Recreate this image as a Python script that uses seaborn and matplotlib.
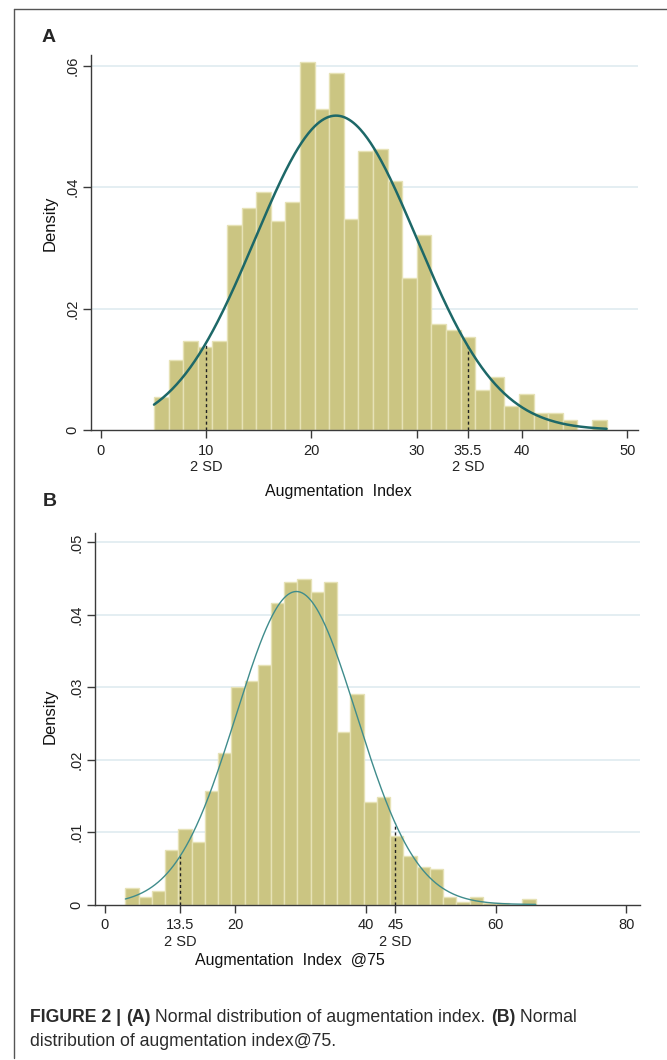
import numpy as np
import pandas as pd
import matplotlib
matplotlib.use("Agg")
import matplotlib.pyplot as plt
import seaborn as sns

# ---------------- data ----------------
# Panel A : Augmentation Index
a_bin_start = 5.05
a_bin_width = 1.386
a_heights = [0.0055, 0.0115, 0.0146, 0.0136, 0.0146, 0.0338, 0.0366, 0.0393, 0.0344, 0.0376,
             0.0606, 0.0529, 0.0588, 0.0348, 0.0459, 0.0463, 0.0410, 0.0250, 0.0321, 0.0174,
             0.0164, 0.0153, 0.0066, 0.0087, 0.0039, 0.0060, 0.0028, 0.0028, 0.0017, 0.0000,
             0.0017]
a_mean, a_sd = 22.33, 7.70
a_sd_marks = [10.0, 34.85]
a_xticks = [0, 10, 20, 30, 34.85, 40, 50]
a_xticklabels = ["0", "10\n2 SD", "20", "30", "35.5\n2 SD", "40", "50"]
a_yticks = [0, 0.02, 0.04, 0.06]
a_yticklabels = ["0", ".02", ".04", ".06"]
a_xlabel = "Augmentation  Index"

# Panel B : Augmentation Index @75
b_bin_start = 3.17
b_bin_width = 2.03
b_heights = [0.0023, 0.0011, 0.0018, 0.0075, 0.0104, 0.0086, 0.0157, 0.0209, 0.0301, 0.0308,
             0.0331, 0.0416, 0.0446, 0.0450, 0.0431, 0.0446, 0.0238, 0.0290, 0.0141, 0.0149,
             0.0094, 0.0067, 0.0052, 0.0049, 0.0011, 0.0004, 0.0011, 0.0002, 0.0002, 0.0000,
             0.0007]
b_mean, b_sd = 29.4, 9.23
b_sd_marks = [11.53, 44.57]
b_xticks = [0, 11.53, 20, 40, 44.57, 60, 80]
b_xticklabels = ["0", "13.5\n2 SD", "20", "40", "45\n2 SD", "60", "80"]
b_yticks = [0, 0.01, 0.02, 0.03, 0.04, 0.05]
b_yticklabels = ["0", ".01", ".02", ".03", ".04", ".05"]
b_xlabel = "Augmentation  Index  @75"

ylabel = "Density"

caption_line1 = [("FIGURE 2 | ", "bold"), ("(A)", "bold"),
                 (" Normal distribution of augmentation index. ", "normal"),
                 ("(B)", "bold"), (" Normal", "normal")]
caption_line2 = "distribution of augmentation index@75."

# ---------------- style ----------------
sns.set_theme(style="white")
plt.rcParams["font.family"] = ["Liberation Sans", "DejaVu Sans"]

W, H = 667, 1060
fig = plt.figure(figsize=(W / 100, H / 100), dpi=100)

BAR = "#cbc582"
BAR_EDGE = "#e6e2b6"
GRID = "#e2edf1"
AXC = "#3a3a3a"


def normpdf(x, m, s):
    return np.exp(-0.5 * ((x - m) / s) ** 2) / (s * np.sqrt(2 * np.pi))


def px_axes(left, top, right, bottom):
    return fig.add_axes([left / W, 1 - bottom / H, (right - left) / W, (bottom - top) / H])


def panel(ax, start, width, heights, mean, sd, marks, xticks, xticklabels, yticks,
          yticklabels, xlim, ylim, curve_color, curve_lw, xlabel, xlabel_pos, ylabel_pos):
    n = len(heights)
    edges = [float(start + width * i) for i in range(n + 1)]
    centers = [e + width / 2 for e in edges[:-1]]
    df = pd.DataFrame({"x": centers, "w": heights})
    for yv in yticks[1:]:
        ax.axhline(yv, color=GRID, lw=1.3, zorder=0)
    sns.histplot(data=df, x="x", weights="w", bins=edges, stat="count", ax=ax,
                 color=BAR, edgecolor=BAR_EDGE, linewidth=1.0, alpha=1.0, zorder=2)
    xs = np.linspace(edges[0], edges[-1], 400)
    sns.lineplot(x=xs, y=normpdf(xs, mean, sd), ax=ax, color=curve_color, lw=curve_lw, zorder=4)
    for m in marks:
        ax.plot([m, m], [0, normpdf(m, mean, sd)], color="#222222", lw=1.0,
                ls=(0, (2.2, 2.0)), zorder=3)
    ax.set_xlim(*xlim)
    ax.set_ylim(*ylim)
    ax.set_xticks(xticks)
    ax.set_xticklabels(xticklabels, fontsize=10.5, color="#222222", linespacing=1.2)
    ax.set_yticks(yticks)
    ax.set_yticklabels(yticklabels, fontsize=10.5, color="#222222", rotation=90, va="center")
    ax.tick_params(axis="both", length=5.5, width=1, color=AXC, direction="out")
    ax.tick_params(axis="x", bottom=True, pad=4.5)
    ax.tick_params(axis="y", left=True, pad=3)
    for s in ["top", "right"]:
        ax.spines[s].set_visible(False)
    for s in ["left", "bottom"]:
        ax.spines[s].set_color(AXC)
        ax.spines[s].set_linewidth(1.0)
    ax.set_xlabel(xlabel, fontsize=11.5, color="#111111")
    ax.xaxis.set_label_coords(*xlabel_pos)
    ax.xaxis.label.set_va("center")
    ax.set_ylabel(ylabel, fontsize=12, color="#111111")
    ax.yaxis.set_label_coords(*ylabel_pos)
    ax.yaxis.label.set_va("center")
    ax.grid(False)
    ax.set_facecolor("none")


axA = px_axes(91, 55, 638, 430)
panel(axA, a_bin_start, a_bin_width, a_heights, a_mean, a_sd, a_sd_marks, a_xticks,
      a_xticklabels, a_yticks, a_yticklabels, (-0.93, 51.0), (0, 0.0618),
      "#1d6868", 1.8, a_xlabel, (0.4516, -0.163), (-0.075, 0.552))

axB = px_axes(95, 533, 640, 904.5)
panel(axB, b_bin_start, b_bin_width, b_heights, b_mean, b_sd, b_sd_marks, b_xticks,
      b_xticklabels, b_yticks, b_yticklabels, (-1.49, 82.1), (0, 0.0513),
      "#3f8c8c", 1.0, b_xlabel, (0.357, -0.1495), (-0.083, 0.506))

# panel letters
fig.text(42 / W, 1 - 37.5 / H, "A", fontsize=14, fontweight="bold", va="center", ha="left")
fig.text(43 / W, 1 - 502 / H, "B", fontsize=14, fontweight="bold", va="center", ha="left")

# outer frame (top and left edges)
fig.add_artist(plt.Line2D([14 / W, 1.0], [1 - 9 / H, 1 - 9 / H], color="#555555", lw=1.0))
fig.add_artist(plt.Line2D([14 / W, 14 / W], [2 / H, 1 - 9 / H], color="#555555", lw=1.0))

# caption with bold pieces, chained one after the other
cap_color = "#2b2b2b"
cap_fs = 12.7
txt0, w0 = caption_line1[0]
prev = fig.text(30 / W, 1 - 1021.5 / H, txt0, fontsize=cap_fs, fontweight=w0,
                color=cap_color, va="baseline", ha="left")
for txt, wgt in caption_line1[1:]:
    prev = fig.add_artist(matplotlib.text.Annotation(
        txt, xy=(1, 0), xycoords=prev, va="bottom", ha="left",
        fontsize=cap_fs, fontweight=wgt, color=cap_color))
fig.text(30 / W, 1 - 1046 / H, caption_line2, fontsize=cap_fs, color=cap_color,
         va="baseline", ha="left")

fig.savefig("out.png", dpi=100)
